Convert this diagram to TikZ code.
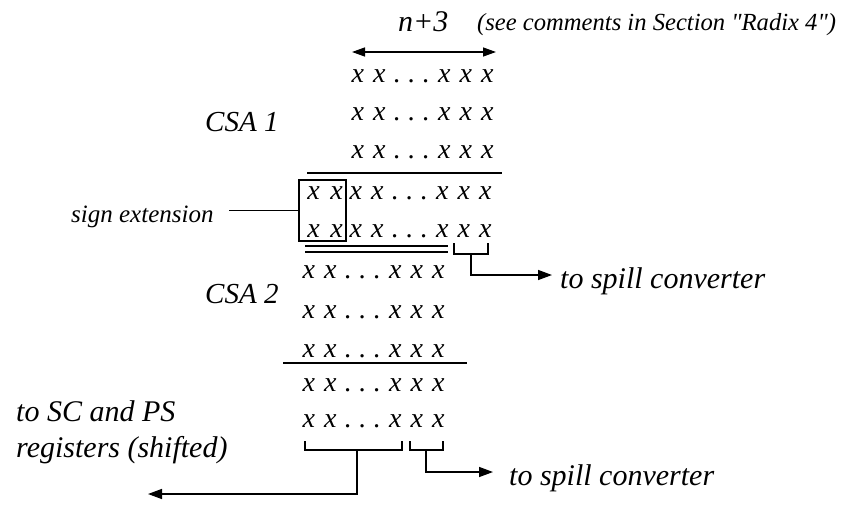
\documentclass[tikz,border=0pt]{standalone}
\usepackage{fontspec}
\setmainfont{Liberation Serif}[Ligatures=TeXOff]
\usetikzlibrary{arrows.meta}
% one digit position and one dot position of a register row
\newcommand\bitx{\makebox[21.5pt]{x}}
\newcommand\bitdot{\makebox[14.5pt]{.}}
\newcommand\bitrow{\bitx\bitx\bitdot\bitdot\bitdot\bitx\bitx\bitx}
\newcommand\signbits{\makebox[23pt]{x}\makebox[23pt]{x}}
\begin{document}
\begin{tikzpicture}[x=1pt,y=-1pt,
  txt/.style={inner sep=0pt, anchor=base west},
  biglbl/.style={txt, font=\itshape\fontsize{30}{32}\selectfont},
  midlbl/.style={txt, font=\itshape\fontsize{25}{27}\selectfont},
  notelbl/.style={txt, font=\itshape\fontsize{24.6}{26}\selectfont},
  bits/.style={txt, font=\itshape\fontsize{28}{30}\selectfont},
  csalbl/.style={txt, font=\itshape\fontsize{29}{31}\selectfont},
  sumline/.style={line width=1.4pt},
  arrowline/.style={line width=1.4pt, -{Triangle[length=14pt,width=10pt]}},
  bothline/.style={line width=1.4pt, {Triangle[length=13pt,width=9pt]}-{Triangle[length=13pt,width=9pt]}}]
\useasboundingbox (0,0) rectangle (845,506);
\fill[white] (0,0) rectangle (845,506);

% width marker
\node[biglbl] (nlen) at (398,31) {n+3};
\node[notelbl] (note) at (477,30) {(see comments in Section "Radix 4")};
\coordinate (wl) at (352,52);
\coordinate (wr) at (496,52);
\draw[bothline] (wl) -- (wr);

% first carry-save adder
\node[bits] (r1) at (347,82.5) {\bitrow};
\node[bits] (r2) at (347,120) {\bitrow};
\node[bits] (r3) at (347,158) {\bitrow};
\node[csalbl] (csa1) at (205,131) {CSA 1};
\draw[sumline] (307,173) -- (502,173);
\node[bits] (s4) at (302,199) {\signbits};
\node[bits] (r4) at (345,199) {\bitrow};
\node[bits] (s5) at (302,237) {\signbits};
\node[bits] (r5) at (345,237) {\bitrow};

% sign extension box
\node[draw, line width=1.4pt, minimum width=47pt, minimum height=61pt, inner sep=0pt] (sgnbox) at (322.5,210.5) {};
\node[midlbl] (sext) at (71,222) {sign extension};
\coordinate (sextend) at (229,210.5);
\draw[sumline] (sextend) -- (sgnbox.west);

% double rule and the two low bits of the first adder
\draw[sumline] (305,246) -- (448,246);
\draw[sumline] (305,252) -- (448,252);
\coordinate (b1l) at (454,243);
\coordinate (b1r) at (488,243);
\coordinate (b1m) at (471,254);
\coordinate (b1t) at (552,275);
\draw[sumline] (b1l) |- (b1m) -| (b1r);
\draw[arrowline] (b1m) |- (b1t);
\node[biglbl] (spill1) at (560,288) {to spill converter};

% second carry-save adder
\node[bits] (r6) at (298,278) {\bitrow};
\node[bits] (r7) at (298,318) {\bitrow};
\node[bits] (r8) at (298,357) {\bitrow};
\node[csalbl] (csa2) at (205,303) {CSA 2};
\draw[sumline] (283,363) -- (467,363);
\node[bits] (r9) at (298,391) {\bitrow};
\node[bits] (r10) at (298,427) {\bitrow};

% outputs of the second adder
\coordinate (b2l) at (305,441);
\coordinate (b2r) at (402,441);
\coordinate (b2m) at (357,450);
\coordinate (b2t) at (148,494);
\draw[sumline] (b2l) |- (b2m) -| (b2r);
\draw[arrowline] (b2m) |- (b2t);
\coordinate (b3l) at (410,441);
\coordinate (b3r) at (443,441);
\coordinate (b3m) at (426,450);
\coordinate (b3t) at (493,472);
\draw[sumline] (b3l) |- (b3m) -| (b3r);
\draw[arrowline] (b3m) |- (b3t);
\node[biglbl] (spill2) at (509,485) {to spill converter};
\node[biglbl] (regs1) at (16,421) {to SC and PS};
\node[biglbl] (regs2) at (16,457) {registers (shifted)};
\end{tikzpicture}
\end{document}
